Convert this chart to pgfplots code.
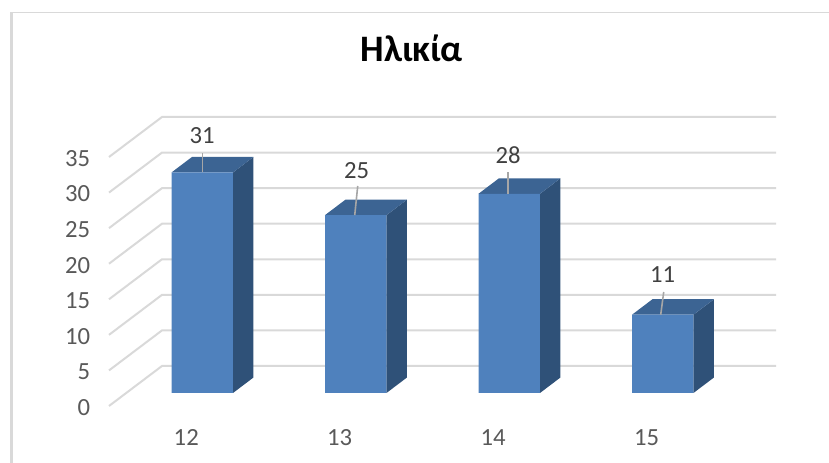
\documentclass[border=0pt]{standalone}
\usepackage{pgfplots}
\usepackage{fontspec}
\setmainfont{Carlito}
\pgfplotsset{compat=1.18}
\definecolor{barfront}{HTML}{4F81BD}
\definecolor{bartop}{HTML}{3C6493}
\definecolor{barside}{HTML}{2F5178}
\definecolor{gridc}{HTML}{D9D9D9}
\definecolor{frame}{HTML}{D9D9D9}
\definecolor{ticktext}{HTML}{595959}
\definecolor{labeltext}{HTML}{404040}
\definecolor{leader}{HTML}{A6A6A6}
\newcommand{\lblfont}{\fontsize{18.5}{18.5}\selectfont}
\begin{document}
\begin{tikzpicture}
% whole page = 829x463 px at 0.75pt per px
\path[use as bounding box] (0,0) rectangle (621.75pt,347.25pt);
\draw[frame, line width=2.2pt] (8.6pt,0) -- (8.6pt,338pt);
\draw[frame, line width=0.8pt] (7.5pt,338pt) -- (621.75pt,338pt);
\begin{axis}[
    at={(81.75pt,42.75pt)},
    anchor=south west,
    scale only axis,
    width=500.25pt,
    height=216.75pt,
    xmin=-0.6075, xmax=3.738,
    ymin=-1.828, ymax=38.797,
    clip=false,
    axis line style={draw=none},
    major tick style={draw=none},
    xtick={0,1,2,3},
    xticklabels={12,13,14,15},
    ytick={0,5,10,15,20,25,30,35},
    /pgf/number format/assume math mode=true,
    tick label style={font=\lblfont, text=ticktext, inner sep=0pt},
    yticklabel style={xshift=-14pt, yshift=-10.8pt},
    xticklabel style={xshift=-12pt, anchor=center, yshift=-23.5pt},
    title={Ηλικία},
    title style={at={(0.454,1.165)}, anchor=base, inner sep=0pt,
        font=\bfseries\fontsize{28}{28}\selectfont},
    grid line/.style={gridc, line width=1.5pt, forget plot},
    side face/.style={fill=barside, draw=none, forget plot},
    top face/.style={fill=bartop, draw=none, forget plot},
    leader line/.style={leader, line width=1.2pt, forget plot},
]
% gridlines: floor edge, then along the back wall
\addplot[grid line] coordinates {(-0.6075,-1.828) (-0.2622,3.797) (3.738,3.797)};
\addplot[grid line] coordinates {(-0.6075,3.172) (-0.2622,8.797) (3.738,8.797)};
\addplot[grid line] coordinates {(-0.6075,8.172) (-0.2622,13.797) (3.738,13.797)};
\addplot[grid line] coordinates {(-0.6075,13.172) (-0.2622,18.797) (3.738,18.797)};
\addplot[grid line] coordinates {(-0.6075,18.172) (-0.2622,23.797) (3.738,23.797)};
\addplot[grid line] coordinates {(-0.6075,23.172) (-0.2622,28.797) (3.738,28.797)};
\addplot[grid line] coordinates {(-0.6075,28.172) (-0.2622,33.797) (3.738,33.797)};
\addplot[grid line] coordinates {(-0.6075,33.172) (-0.2622,38.797) (3.738,38.797)};

% side faces
\addplot[side face] coordinates {(0.2003,0) (0.3339,2.18) (0.3339,33.18) (0.2003,31) (0.2003,0)};
\addplot[side face] coordinates {(1.2003,0) (1.3339,2.18) (1.3339,27.18) (1.2003,25) (1.2003,0)};
\addplot[side face] coordinates {(2.2003,0) (2.3339,2.18) (2.3339,30.18) (2.2003,28) (2.2003,0)};
\addplot[side face] coordinates {(3.2003,0) (3.3339,2.18) (3.3339,13.18) (3.2003,11) (3.2003,0)};

% top faces
\addplot[top face] coordinates {(-0.2003,31) (-0.0667,33.18) (0.3339,33.18) (0.2003,31) (-0.2003,31)};
\addplot[top face] coordinates {(0.7997,25) (0.9333,27.18) (1.3339,27.18) (1.2003,25) (0.7997,25)};
\addplot[top face] coordinates {(1.7997,28) (1.9333,30.18) (2.3339,30.18) (2.2003,28) (1.7997,28)};
\addplot[top face] coordinates {(2.7997,11) (2.9333,13.18) (3.3339,13.18) (3.2003,11) (2.7997,11)};

% front faces
\addplot[ybar, bar width=46pt, bar shift=0pt, fill=barfront, draw=none]
    coordinates {(0,31) (1,25) (2,28) (3,11)};

% leader lines to the data labels
\addplot[leader line] coordinates {(0.0016,31) (0.0016,33.8)};
\addplot[leader line] coordinates {(0.9935,25) (1.013,29.1)};
\addplot[leader line] coordinates {(1.9935,28) (1.9935,31.0)};
\addplot[leader line] coordinates {(2.9870,11) (3.0065,14.2)};

\node[font=\lblfont, text=labeltext, inner sep=0pt] at (axis cs:0,36.2) {31};
\node[font=\lblfont, text=labeltext, inner sep=0pt] at (axis cs:1.0065,31.2) {25};
\node[font=\lblfont, text=labeltext, inner sep=0pt] at (axis cs:1.9935,33.4) {28};
\node[font=\lblfont, text=labeltext, inner sep=0pt] at (axis cs:3,16.7) {11};
\end{axis}
\end{tikzpicture}
\end{document}
